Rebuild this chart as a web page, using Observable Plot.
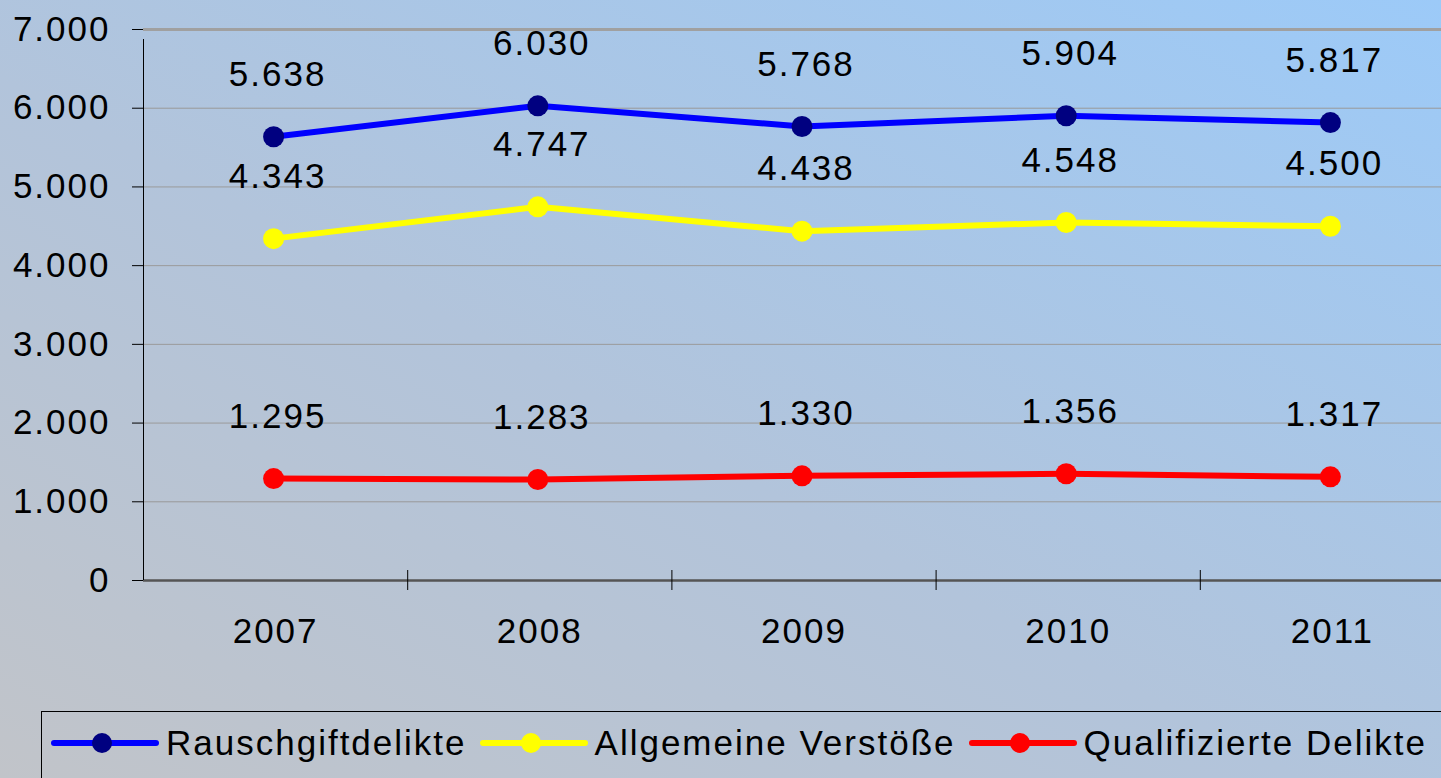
<!DOCTYPE html>
<html>
<head>
<meta charset="utf-8">
<script src="https://cdn.jsdelivr.net/npm/d3@7"></script>
<script src="https://cdn.jsdelivr.net/npm/@observablehq/plot@0.6"></script>
<style>
  html, body { margin: 0; padding: 0; }
  body {
    width: 1441px; height: 778px; overflow: hidden; position: relative;
    background: linear-gradient(to top right, #c1c4c9 0%, #b2c4db 45%, #9ccaf8 100%);
    font-family: "Liberation Sans", Arial, sans-serif;
  }
  #chart { position: absolute; left: 0; top: 0; }
  #legend {
    position: absolute; left: 41px; top: 711px; width: 1500px; height: 120px;
    border: 1px solid #000; box-sizing: border-box;
    padding-left: 8px; padding-top: 13px;
    display: flex; align-items: flex-start; gap: 12px;
  }
  .item { display: flex; align-items: center; }
  .item span { font-size: 35px; letter-spacing: 2px; margin-left: 6px; color: #000; line-height: 36px; white-space: nowrap; }
</style>
</head>
<body>
<div id="chart"></div>
<div id="legend"></div>
<script>
// ---- data ----
const years = [2007, 2008, 2009, 2010, 2011];
const seriesNames = ["Rauschgiftdelikte", "Allgemeine Verstöße", "Qualifizierte Delikte"];
const rauschgiftdelikte = [5638, 6030, 5768, 5904, 5817];
const allgemeineVerstoesse = [4343, 4747, 4438, 4548, 4500];
const qualifizierteDelikte = [1295, 1283, 1330, 1356, 1317];
const yTicks = [0, 1000, 2000, 3000, 4000, 5000, 6000, 7000];

// ---- styles ----
const lineColors = ["#0000ff", "#ffff00", "#ff0000"];
const dotColors = ["#000080", "#ffff00", "#ff0000"];

const de = d3.formatLocale({decimal: ",", thousands: ".", grouping: [3], currency: ["", " €"]});
const fmt = de.format(",");

const seriesValues = [rauschgiftdelikte, allgemeineVerstoesse, qualifizierteDelikte];
const rows = [];
seriesNames.forEach((s, si) => years.forEach((y, i) => rows.push({series: s, si, year: y, value: seriesValues[si][i]})));

const boundaries = d3.range(years.length).map(i => years[0] - 0.5 + i);
const xMin = years[0] - 0.5, xMax = years[years.length - 1] + 0.5;

const marks = [
  Plot.ruleY(yTicks.filter(t => t > 0 && t < 7000), {stroke: "#9a9a9a", strokeWidth: 1}),
  Plot.ruleY([7000], {stroke: "#a0a0a0", strokeWidth: 3}),
  Plot.ruleY([0], {stroke: "#555", strokeWidth: 2.5}),
  Plot.ruleX([xMin], {y1: 0, y2: 7000, stroke: "#000", strokeWidth: 1, insetBottom: -10}),
  Plot.ruleX(boundaries.slice(1), {y1: 0, y2: 0, stroke: "#000", strokeWidth: 1, insetTop: -10, insetBottom: -10}),
  Plot.axisY({ticks: yTicks, tickSize: 11, tickPadding: 22, tickFormat: d => fmt(d), fontSize: 35, stroke: "#000", color: "#000", label: null}),
  Plot.axisX({ticks: years, tickSize: 0, tickPadding: 38, tickFormat: d => String(d), fontSize: 35, color: "#000", label: null}),
];
seriesNames.forEach((s, si) => {
  const data = rows.filter(r => r.si === si);
  marks.push(Plot.line(data, {x: "year", y: "value", stroke: lineColors[si], strokeWidth: 6, dx: -2}));
  marks.push(Plot.dot(data, {x: "year", y: "value", fill: dotColors[si], r: 10.5, dx: -2}));
  marks.push(Plot.text(data, {x: "year", y: "value", text: d => fmt(d.value), dy: -62, dx: 2, fontSize: 35, fill: "#000", lineAnchor: "middle"}));
});

const chart = Plot.plot({
  width: 1470,
  height: 660,
  marginLeft: 143,
  marginRight: 6,
  marginTop: 29,
  marginBottom: 80,
  x: {type: "linear", domain: [xMin, xMax], label: null},
  y: {domain: [0, 7000], label: null},
  style: {background: "transparent", maxWidth: "none", overflow: "visible", fontFamily: "'Liberation Sans', Arial, sans-serif", letterSpacing: "2px", color: "#000"},
  marks
});
document.getElementById("chart").appendChild(chart);

// ---- legend ----
const legend = document.getElementById("legend");
seriesNames.forEach((s, si) => {
  const item = document.createElement("div");
  item.className = "item";
  item.innerHTML = `<svg width="110" height="36" style="display:block"><line x1="4" x2="106" y1="18" y2="18" stroke="${lineColors[si]}" stroke-width="6" stroke-linecap="round"/><circle cx="52" cy="18" r="10" fill="${dotColors[si]}"/></svg><span>${s}</span>`;
  legend.appendChild(item);
});
</script>
</body>
</html>
